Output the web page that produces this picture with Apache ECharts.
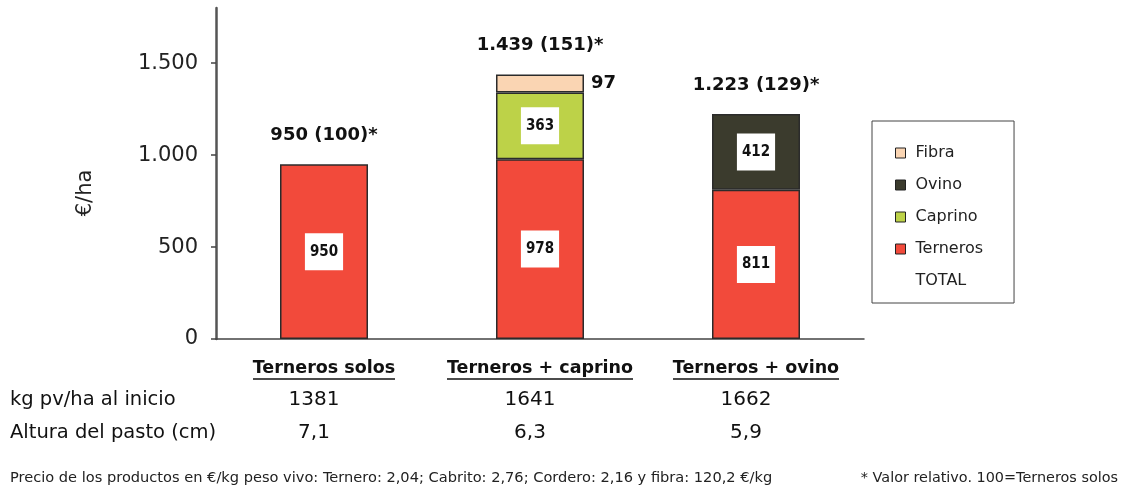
<!DOCTYPE html>
<html>
<head>
<meta charset="utf-8">
<script src="https://cdn.jsdelivr.net/npm/echarts@6/dist/echarts.min.js"></script>
<style>
  html, body { margin: 0; padding: 0; background: #fff; }
  #chart { width: 1122px; height: 490px; }
</style>
</head>
<body>
<div id="chart"></div>
<script>
const categories = ['Terneros solos', 'Terneros + caprino', 'Terneros + ovino']
const terneros = [950, 978, 811]
const caprino = [null, 363, null]
const ovino = [null, null, 412]
const fibra = [null, 97, null]
const totals = [950, 1439, 1223]
const relativo = [100, 151, 129]
const kgInicio = ['1381', '1641', '1662']
const alturaPasto = ['7,1', '6,3', '5,9']
const yTicks = [0, 500, 1000, 1500]

const FONT = '"DejaVu Sans", "Liberation Sans", sans-serif'

function miles(n) {
  return String(n).replace(/\B(?=(\d{3})+(?!\d))/g, '.')
}

// underline widths for the category labels
const ctx = document.createElement('canvas').getContext('2d')
ctx.font = 'bold 17.5px "DejaVu Sans"'
const catRich = {
  t: { fontFamily: FONT, fontWeight: 'bold', fontSize: 17.5, color: '#111', lineHeight: 20 }
}
categories.forEach(function (c, i) {
  catRich['u' + i] = {
    width: Math.round(ctx.measureText(c).width),
    height: 1.5,
    lineHeight: 2,
    fontSize: 1,
    backgroundColor: '#111'
  }
})

const innerLabel = {
  show: true,
  position: 'inside',
  backgroundColor: '#fff',
  padding: [11, 5],
  color: '#111',
  fontFamily: '"DejaVu Sans Condensed", "DejaVu Sans", sans-serif',
  fontWeight: 'bold',
  fontSize: 15
}
const barBorder = { borderColor: '#2b2b2b', borderWidth: 1.5 }

var myChart = echarts.init(document.getElementById('chart'))
var option = {
  animation: false,
  backgroundColor: '#fff',
  grid: { left: 216, right: 258, top: 8, bottom: 151, containLabel: false, outerBoundsMode: 'none' },
  legend: {
    orient: 'vertical',
    left: 872,
    top: 121,
    padding: [24, 31, 14, 23],
    borderColor: '#444',
    borderWidth: 1,
    itemWidth: 10,
    itemHeight: 10,
    itemGap: 16,
    icon: 'rect',
    itemStyle: { borderColor: '#222', borderWidth: 1 },
    textStyle: { fontFamily: FONT, fontSize: 16, color: '#222', padding: [0, 0, 0, 5] },
    data: ['Fibra', 'Ovino', 'Caprino', 'Terneros',
      { name: 'TOTAL', itemStyle: { color: 'transparent', borderWidth: 0 } }]
  },
  xAxis: [
    {
      type: 'category',
      position: 'bottom',
      data: categories,
      axisLine: { lineStyle: { color: '#444', width: 1.5 } },
      axisTick: { show: false },
      axisLabel: {
        margin: 19,
        interval: 0,
        formatter: function (v, i) { return '{t|' + v + '}\n{u' + i + '| }' },
        rich: catRich
      }
    },
    {
      type: 'category',
      position: 'bottom',
      data: categories,
      offset: 51,
      axisLine: { show: false },
      axisTick: { show: false },
      axisLabel: {
        interval: 0,
        margin: 0,
        padding: [0, 20, 0, 0],
        fontFamily: FONT, fontSize: 20, color: '#111',
        formatter: function (v, i) { return kgInicio[i] }
      }
    },
    {
      type: 'category',
      position: 'bottom',
      data: categories,
      offset: 84,
      axisLine: { show: false },
      axisTick: { show: false },
      axisLabel: {
        interval: 0,
        margin: 0,
        padding: [0, 20, 0, 0],
        fontFamily: FONT, fontSize: 20, color: '#111',
        formatter: function (v, i) { return alturaPasto[i] }
      }
    }
  ],
  yAxis: {
    type: 'value',
    min: 0,
    max: 1800,
    interval: 500,
    splitLine: { show: false },
    axisLine: { show: true, lineStyle: { color: '#555', width: 2.5 } },
    axisTick: { show: true, length: 5, customValues: yTicks, lineStyle: { color: '#444', width: 1.5 } },
    axisLabel: {
      customValues: yTicks,
      margin: 18,
      fontFamily: FONT, fontSize: 21, color: '#222',
      formatter: function (v) { return miles(v) }
    }
  },
  graphic: [
    {
      type: 'text', x: 86, y: 193, rotation: Math.PI / 2,
      style: { text: '€/ha', fontFamily: FONT, fontSize: 21, fill: '#222', align: 'center', verticalAlign: 'middle' }
    },
    {
      type: 'text', left: 10, top: 390,
      style: { text: 'kg pv/ha al inicio', fontFamily: FONT, fontSize: 19.5, fill: '#111' }
    },
    {
      type: 'text', left: 10, top: 423,
      style: { text: 'Altura del pasto (cm)', fontFamily: FONT, fontSize: 19.5, fill: '#111' }
    },
    {
      type: 'text', left: 10, top: 471,
      style: { text: 'Precio de los productos en €/kg peso vivo: Ternero: 2,04; Cabrito: 2,76; Cordero: 2,16 y fibra: 120,2 €/kg', fontFamily: FONT, fontSize: 14.6, fill: '#222' }
    },
    {
      type: 'text', right: 4, top: 471,
      style: { text: '* Valor relativo. 100=Terneros solos', fontFamily: FONT, fontSize: 14.4, fill: '#222' }
    }
  ],
  series: [
    {
      name: 'Terneros', type: 'bar', stack: 'a', barWidth: 88,
      itemStyle: Object.assign({ color: '#F24A3B' }, barBorder),
      label: innerLabel,
      data: terneros
    },
    {
      name: 'Caprino', type: 'bar', stack: 'a', barWidth: 88,
      itemStyle: Object.assign({ color: '#BDD248' }, barBorder),
      label: innerLabel,
      data: caprino
    },
    {
      name: 'Ovino', type: 'bar', stack: 'a', barWidth: 88,
      itemStyle: Object.assign({ color: '#3B3B2D' }, barBorder),
      label: innerLabel,
      data: ovino
    },
    {
      name: 'Fibra', type: 'bar', stack: 'a', barWidth: 88,
      itemStyle: Object.assign({ color: '#FAD5B3' }, barBorder),
      label: {
        show: true, position: 'right', distance: 7,
        fontFamily: FONT, fontWeight: 'bold', fontSize: 18, color: '#111'
      },
      data: fibra
    },
    {
      name: 'TOTAL', type: 'bar', barWidth: 88, barGap: '-100%', silent: true, z: 1,
      itemStyle: { color: 'transparent', borderWidth: 0 },
      label: {
        show: true, position: 'top', distance: 20,
        fontFamily: FONT, fontWeight: 'bold', fontSize: 18, color: '#111',
        formatter: function (p) { return miles(totals[p.dataIndex]) + ' (' + relativo[p.dataIndex] + ')*' }
      },
      data: totals
    }
  ]
}

option && myChart.setOption(option)
</script>
</body>
</html>
